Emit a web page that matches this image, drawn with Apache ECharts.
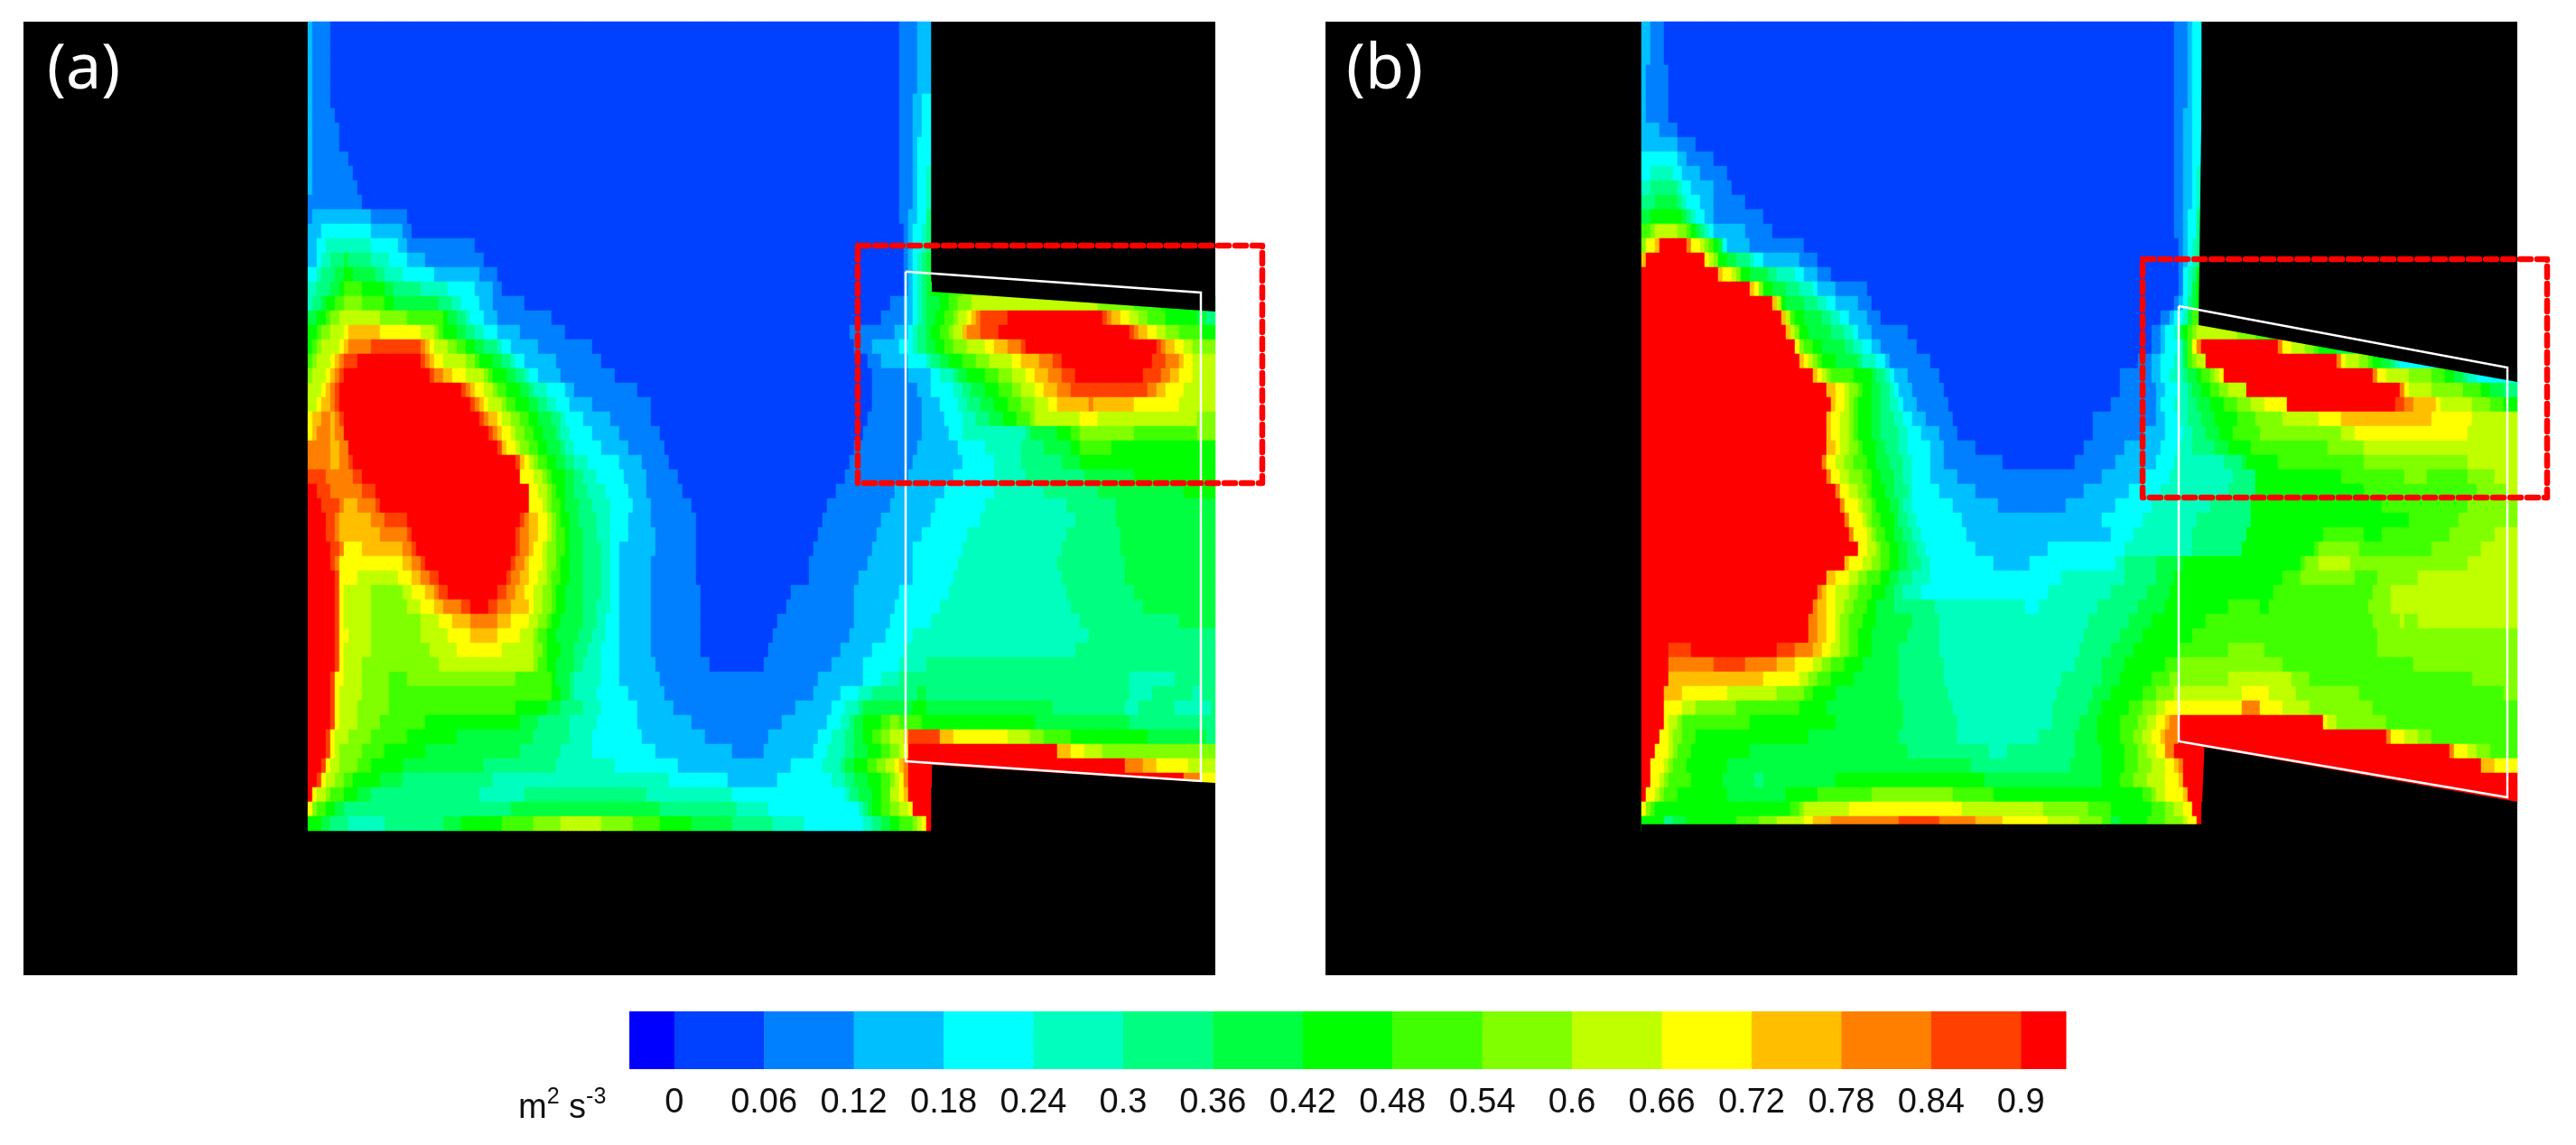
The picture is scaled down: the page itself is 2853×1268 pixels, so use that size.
<!DOCTYPE html>
<html>
<head>
<meta charset="utf-8">
<title>m2 s-3 contours</title>
<script src="https://cdn.jsdelivr.net/npm/echarts@6/dist/echarts.min.js"></script>
<style>
html,body{margin:0;padding:0;background:#fff;}
#main{width:2853px;height:1268px;}
</style>
</head>
<body>
<div id="main"></div>
<script>
// colour bar: tick values, band edges and band colours
var tickValues = [0,0.06,0.12,0.18,0.24,0.3,0.36,0.42,0.48,0.54,0.6,0.66,0.72,0.78,0.84,0.9];
var bandEdges = [-0.03,0,0.06,0.12,0.18,0.24,0.3,0.36,0.42,0.48,0.54,0.6,0.66,0.72,0.78,0.84,0.9,0.93];
var bandValues = [-0.015,0.03,0.09,0.15,0.21,0.27,0.33,0.39,0.45,0.51,0.57,0.63,0.69,0.75,0.81,0.87,0.915];
var bandColors = ['#0000ff','#0040ff','#0080ff','#00bfff','#00ffff','#00ffbf','#00ff80','#00ff40','#00ff00','#40ff00','#80ff00','#bfff00','#ffff00','#ffbf00','#ff8000','#ff4000','#ff0000'];

// field values, one string per grid row.
// first number = first column, then band:endColumn (band 0-9,a-g)
var panelARows = [
'63 3:64 2:68 1:194 2:198 3:201',
'63 3:64 2:68 1:194 2:198 3:201',
'63 3:64 2:68 1:194 2:198 3:201',
'63 3:64 2:68 1:194 2:198 3:201',
'63 3:64 2:68 1:194 2:198 3:201',
'63 3:64 2:68 1:194 2:197 3:199 4:201',
'63 3:64 2:69 1:194 2:197 3:199 4:201',
'63 3:64 2:70 1:194 2:197 3:199 4:201',
'63 3:64 2:70 1:194 2:197 3:198 4:201',
'63 3:64 2:72 1:194 2:197 3:198 4:201',
'63 3:64 2:73 1:194 2:197 3:198 4:200 5:201',
'63 3:64 2:74 1:194 2:197 3:198 4:200 5:201',
'63 2:75 1:194 2:197 3:198 4:200 5:201',
'63 2:64 3:77 2:85 1:194 2:196 3:198 4:200 6:201',
'63 3:66 4:77 3:84 2:86 1:195 2:196 3:197 4:199 5:200 6:201',
'63 3:65 4:67 5:77 4:83 3:85 2:100 1:195 2:196 3:197 4:199 5:200 6:201',
'63 3:65 4:66 5:68 6:71 7:72 6:77 5:81 4:85 3:89 2:102 1:195 2:196 3:197 4:198 5:199 6:200 7:201',
'63 4:65 5:66 6:69 7:71 8:73 7:78 6:80 5:84 4:91 3:101 2:105 1:195 2:196 3:197 4:198 5:199 6:200 7:201',
'63 5:65 6:68 7:70 8:71 9:75 8:80 7:82 6:88 5:94 4:100 3:104 2:106 1:195 2:196 3:197 4:198 5:199 6:200 7:201 8:205 9:208 a:212 b:216',
'63 5:64 6:66 7:67 8:69 9:71 a:75 9:80 8:82 7:92 6:95 5:97 4:101 3:104 2:111 1:192 2:195 3:197 4:198 5:199 6:200 7:203 8:205 9:207 a:210 b:238 a:246 9:252 8:258 7:264',
'63 7:65 8:67 9:68 a:70 b:79 a:85 9:93 8:94 7:96 6:98 5:99 4:102 3:105 2:117 1:190 2:195 3:197 4:198 5:199 6:200 7:202 8:204 9:206 a:207 b:209 c:210 d:211 e:212 f:218 g:239 f:240 e:241 d:243 c:245 b:247 a:249 9:253 8:260 7:262 6:264',
'63 8:65 9:66 a:68 b:71 c:72 d:79 c:88 b:91 a:92 9:93 8:96 7:98 6:100 5:102 4:105 3:110 2:120 1:183 2:193 3:196 4:197 5:198 6:200 7:201 8:203 9:205 a:206 b:208 d:209 e:212 f:216 g:245 f:246 e:247 d:249 c:251 b:253 a:256 9:261 8:264',
'63 8:64 9:65 a:66 b:70 c:71 d:72 e:77 f:88 e:89 d:90 c:91 b:94 a:96 9:98 8:100 7:102 6:105 5:106 4:108 3:114 2:126 1:184 2:188 3:194 4:197 5:198 6:200 7:202 8:204 9:206 a:209 b:213 c:215 d:218 e:221 f:222 g:251 f:252 e:253 d:255 c:257 b:259 a:264',
'63 9:64 a:65 b:68 c:69 d:70 e:71 f:74 g:88 f:89 e:90 d:91 c:93 b:98 a:100 9:101 8:104 7:106 6:108 5:109 4:111 3:118 2:128 1:187 2:190 3:196 4:200 5:201 6:203 7:205 8:208 9:211 a:214 b:219 c:221 d:225 e:228 f:230 g:250 f:253 e:256 d:257 c:259 b:264',
'63 a:64 b:67 c:68 d:69 e:70 f:71 g:90 f:91 e:93 d:95 c:98 b:102 a:103 9:104 8:107 7:109 6:111 5:112 4:114 3:119 2:131 1:188 2:196 3:201 4:203 5:206 6:207 7:209 8:213 9:216 a:219 b:222 c:224 d:227 e:230 f:233 g:248 f:252 e:254 d:256 c:259 b:264',
'63 b:66 c:67 d:68 e:69 f:70 g:97 f:98 e:99 d:100 c:102 b:104 a:105 9:107 8:110 7:112 6:113 5:116 4:120 3:122 2:136 1:188 2:198 3:201 4:206 5:208 6:210 7:213 8:216 9:219 a:221 b:224 c:226 d:229 e:232 f:249 e:251 d:253 c:257 b:264',
'63 b:65 c:66 d:68 e:69 f:70 g:99 f:100 e:101 d:102 c:103 b:106 a:107 9:109 8:112 7:114 6:116 5:118 4:121 3:126 2:139 1:188 2:199 3:203 4:207 5:209 6:212 7:215 8:218 9:221 a:224 b:227 c:229 d:236 e:237 d:246 c:256 b:264',
'63 c:64 d:66 e:68 d:69 e:70 f:71 g:101 f:102 e:103 d:105 c:106 b:108 a:110 9:112 8:114 7:117 6:119 5:120 4:124 3:130 2:139 1:187 2:199 3:204 4:208 5:211 6:214 7:217 8:220 9:223 a:224 b:234 c:238 b:260 a:264',
'63 c:64 d:65 e:68 d:69 e:71 g:103 f:104 e:105 d:106 c:108 b:109 a:111 9:113 8:115 7:118 6:119 5:121 4:126 3:132 2:141 1:186 2:199 3:205 4:208 5:222 6:223 7:229 8:232 9:234 a:246 9:260 a:264',
'63 e:68 d:70 e:72 g:105 f:106 d:107 c:109 b:110 a:112 9:114 8:116 7:119 6:120 5:122 4:128 3:134 2:142 1:184 2:198 3:207 4:213 5:221 6:226 7:232 8:234 9:241 8:264',
'63 e:68 d:70 e:72 f:73 g:109 f:110 d:111 c:112 b:113 a:114 9:116 8:118 7:120 6:122 5:125 4:132 3:137 2:143 1:183 2:197 3:208 4:215 5:221 6:230 7:234 8:264',
'63 f:67 e:73 f:75 g:110 c:113 b:115 a:116 9:117 8:120 7:122 6:124 5:127 4:133 3:138 2:145 1:182 2:196 3:206 4:215 5:222 6:235 7:246 8:264',
'63 g:65 f:68 e:75 f:78 g:112 c:114 b:116 a:117 9:118 8:120 7:122 6:125 5:129 4:134 3:138 2:146 1:180 2:193 3:204 4:215 5:226 6:238 7:257 8:264',
'63 g:66 f:70 e:71 d:74 e:78 f:79 g:112 c:115 b:116 a:117 9:119 8:120 7:123 6:126 5:130 4:135 3:139 2:148 1:178 2:192 3:202 4:213 5:231 6:242 7:264',
'63 g:67 f:69 e:70 d:77 e:80 f:85 g:110 f:111 e:112 d:114 c:116 b:117 a:118 9:119 8:121 7:123 6:127 5:130 4:134 3:139 2:149 1:177 2:190 3:201 4:212 5:233 6:242 7:264',
'63 g:67 f:69 e:70 d:79 e:85 f:86 g:109 f:110 e:112 d:114 c:116 b:117 a:118 9:120 8:121 7:124 6:127 5:130 4:134 3:140 2:149 1:176 2:189 3:199 4:209 5:231 6:243 7:264',
'63 g:68 f:70 e:71 c:75 d:84 e:86 f:87 g:109 f:110 e:112 d:113 c:115 b:116 a:118 9:120 8:121 7:124 6:128 5:130 4:132 3:140 2:149 1:175 2:188 3:197 4:208 5:230 6:243 7:264',
'63 g:68 f:69 e:70 c:84 d:86 e:88 f:89 g:108 f:109 e:111 d:112 c:115 b:116 a:118 9:119 8:121 7:124 6:128 5:130 4:132 3:139 2:149 1:174 2:187 3:197 4:207 5:229 6:244 7:264',
'63 g:69 f:70 c:74 b:83 c:86 d:88 e:90 f:92 g:107 f:108 e:110 d:112 c:114 b:116 a:117 9:119 8:121 7:124 6:128 5:130 4:132 3:139 2:149 1:174 2:185 3:197 4:206 5:230 6:244 7:264',
'63 g:69 f:70 c:71 b:77 a:84 b:86 c:89 d:91 e:92 f:94 g:105 f:107 e:109 d:111 c:113 b:115 a:117 9:118 8:120 7:124 6:128 5:130 4:132 3:139 2:150 1:170 2:184 3:194 4:205 5:231 6:246 7:264',
'63 g:69 f:70 c:71 b:77 a:85 b:88 c:91 d:93 e:97 f:99 g:103 f:105 e:108 d:112 c:113 b:115 a:117 9:118 8:120 7:124 6:127 5:130 4:132 3:139 2:150 1:169 2:184 3:193 4:203 5:232 6:248 7:264',
'63 g:69 f:70 c:71 b:77 a:88 b:92 c:95 d:99 e:105 d:108 c:112 b:114 a:116 9:117 8:119 7:124 6:127 5:129 4:132 3:139 2:150 1:167 2:184 3:192 4:201 5:234 6:256 7:264',
'63 g:69 f:70 c:72 b:77 a:88 b:94 c:99 d:105 c:110 b:113 a:114 9:116 8:118 7:123 6:126 5:129 4:132 3:139 2:150 1:166 2:183 3:191 4:197 5:236 6:264',
'63 g:69 f:70 c:71 b:77 a:90 b:96 c:106 b:113 a:115 9:116 8:119 7:122 6:125 5:128 4:132 3:139 2:150 1:165 2:181 3:188 4:195 5:233 6:264',
'63 g:69 f:70 c:71 b:75 a:92 b:113 a:114 9:116 8:118 7:122 6:124 5:128 4:132 3:140 2:152 1:164 2:179 3:186 4:194 5:200 6:264',
'63 g:68 f:69 c:71 b:75 a:81 9:85 a:109 9:117 8:118 7:121 6:122 5:128 4:132 3:141 2:176 3:186 4:190 5:194 6:245 5:255 6:264',
'63 g:68 f:69 c:70 b:75 a:81 9:117 8:119 7:121 6:122 5:127 4:134 3:142 2:175 3:181 4:185 5:188 6:198 7:200 6:245 5:250 6:259 5:261 6:264',
'63 g:68 f:69 c:70 b:74 a:81 9:109 8:116 7:119 6:124 5:128 4:136 3:144 2:171 3:179 4:182 5:185 6:186 7:197 8:200 7:228 6:244 5:247 6:255 5:263 6:264',
'63 g:68 f:69 c:70 b:74 a:79 9:89 8:110 7:114 6:121 5:127 4:136 3:148 2:168 3:178 4:181 5:183 6:184 7:186 8:190 9:192 a:194 9:199 8:224 7:245 6:264',
'63 g:67 f:68 c:69 b:72 a:77 9:85 8:96 7:113 6:121 5:126 4:137 3:151 2:165 3:176 4:179 5:182 6:184 7:186 8:188 9:190 a:192 b:195 d:196 f:203 d:206 c:218 b:223 a:226 9:232 8:249 7:262 6:264',
'63 g:67 f:68 c:69 b:70 a:75 9:80 8:89 7:110 6:119 5:126 4:140 3:157 2:164 3:175 4:178 5:182 6:184 7:187 8:190 9:192 a:194 b:195 c:196 g:229 d:232 c:235 b:239 a:264',
'63 g:66 f:67 c:68 b:70 a:74 9:77 8:84 7:102 6:118 5:131 4:145 3:170 4:177 5:181 6:182 7:184 8:187 9:189 a:191 b:193 c:194 d:195 e:196 g:244 e:248 d:251 c:258 b:264',
'63 g:65 f:66 c:67 b:69 a:71 9:73 8:79 7:84 6:104 5:143 4:156 3:167 4:179 5:182 6:184 7:187 8:190 9:192 a:193 b:194 c:195 e:196 g:257 e:261 c:264',
'63 g:64 c:65 b:67 a:68 9:71 8:74 7:77 6:101 5:111 6:138 5:157 4:182 5:183 6:185 7:188 8:190 9:192 b:194 c:195 d:196 g:201',
'63 c:64 a:65 9:67 8:69 7:71 6:108 7:141 6:158 5:165 4:185 5:186 6:187 7:188 8:190 9:192 a:194 b:196 c:197 g:201',
'63 8:66 7:68 6:72 5:80 6:93 7:97 8:106 9:113 a:119 b:128 a:135 9:141 8:148 7:157 6:166 5:173 4:186 5:188 6:190 7:192 8:194 9:197 a:198 b:199 c:200 g:201'
];

var panelBRows = [
'70 3:72 2:75 1:188 2:191 3:192 4:194',
'70 3:72 2:75 1:188 2:191 3:192 4:194',
'70 3:72 2:75 1:188 2:191 3:192 4:194',
'70 3:71 2:76 1:188 2:191 3:192 4:194',
'70 3:71 2:76 1:188 2:191 3:192 4:194',
'70 3:71 2:76 1:188 2:191 3:192 4:194',
'70 3:71 2:76 1:188 2:190 3:192 4:194',
'70 3:74 2:78 1:188 2:190 3:192 4:194',
'70 3:78 2:82 1:188 2:190 3:192 4:194',
'70 4:78 3:80 2:86 1:188 2:190 3:192 4:194',
'70 4:72 5:77 4:79 3:83 2:89 1:188 2:190 3:192 4:193 5:194',
'70 5:72 6:78 5:79 4:81 3:86 2:90 1:188 2:190 3:192 4:193 5:194',
'70 6:73 7:78 6:79 5:80 4:83 3:86 2:93 1:188 2:190 3:192 4:193 5:194',
'70 7:72 8:79 7:80 6:81 5:82 4:84 3:86 2:97 1:188 2:190 3:191 4:193 6:194',
'70 9:72 a:73 b:78 a:80 9:81 8:82 7:83 6:84 5:85 4:86 3:93 2:99 1:188 2:190 3:191 4:193 6:194',
'70 a:71 c:73 d:74 g:80 e:81 c:83 b:84 a:85 9:86 8:87 7:88 4:89 3:94 2:106 1:189 2:190 3:191 4:192 5:193 6:194',
'70 d:71 g:84 c:85 b:86 a:87 8:89 7:91 6:94 5:95 4:97 3:105 2:109 1:189 2:190 3:191 4:192 5:193 6:194',
'70 g:87 d:88 c:90 b:91 a:92 8:94 7:98 6:100 5:104 4:106 3:109 2:112 1:189 2:190 3:190 4:191 5:192 6:193 8:194',
'70 g:94 d:95 c:96 a:97 8:99 7:102 6:105 5:108 4:109 3:113 2:120 1:189 2:190 3:190 4:191 5:192 6:192 7:193 8:194',
'70 g:99 d:100 b:101 8:102 7:106 6:109 5:111 4:113 3:118 2:121 1:188 2:189 3:190 4:191 5:191 6:192 7:193 8:194',
'70 g:101 d:102 b:103 9:104 8:106 7:110 6:112 5:114 4:116 3:120 2:123 1:185 2:187 3:188 4:190 5:191 7:192 9:194',
'70 g:102 d:103 c:103 b:104 a:105 8:107 7:112 6:115 5:117 4:118 3:121 2:129 1:183 2:185 3:186 4:188 5:189 7:190 8:191 9:192 a:193 b:202 a:206 9:209 8:212',
'70 g:104 c:105 b:105 a:106 9:108 8:110 7:115 6:117 5:119 4:121 3:123 2:131 1:183 2:185 3:186 4:189 5:190 7:191 9:192 c:193 e:194 g:211 e:212 c:214 b:217 a:219 9:220 8:224 7:230',
'70 g:105 d:106 c:107 b:108 a:109 9:110 8:113 7:118 6:119 5:122 4:124 3:125 2:134 1:180 2:183 3:185 4:188 5:190 7:191 8:191 9:192 a:193 b:195 g:224 e:225 c:226 b:229 a:231 9:232 8:234 7:236 6:237 5:238 4:248',
'70 g:108 d:109 c:110 b:111 a:112 9:117 8:121 7:122 6:124 5:125 4:126 3:129 2:136 1:176 2:183 3:185 4:187 5:190 6:191 7:193 8:194 9:196 a:197 b:198 c:199 g:232 e:233 c:235 b:240 a:245 9:248 8:250 7:252 6:253 5:255 4:264',
'70 g:111 d:113 c:115 b:116 a:118 9:119 8:121 7:123 6:125 5:126 4:127 3:130 2:137 1:176 2:184 3:186 4:189 5:191 6:192 7:194 8:196 9:198 a:200 b:204 g:238 e:239 c:240 b:245 a:252 9:256 8:258 7:261 6:264',
'70 g:112 d:113 c:115 b:116 a:117 9:118 8:121 7:123 6:125 5:127 4:128 3:131 2:138 1:174 2:184 3:185 4:188 5:191 6:193 7:196 8:199 9:202 a:205 b:208 c:213 g:237 f:239 e:241 d:246 c:247 b:254 a:258 9:261 8:264',
'70 g:111 d:112 c:114 b:116 a:117 9:118 8:121 7:123 6:126 5:128 4:130 3:133 2:139 1:170 2:184 3:186 4:189 5:191 6:194 7:197 8:202 9:206 a:212 b:220 c:225 d:245 c:254 b:264',
'70 g:111 d:112 c:114 b:116 a:117 9:118 8:121 7:123 6:127 5:129 4:132 3:136 2:140 1:170 2:181 3:186 4:190 5:192 6:195 7:198 8:201 9:207 a:225 b:228 c:253 b:264',
'70 g:111 d:113 c:114 b:116 a:118 9:119 8:122 7:124 6:127 5:129 4:134 3:137 2:144 1:168 2:177 3:185 4:189 5:192 6:197 7:200 8:205 9:222 a:230 b:264',
'70 g:110 e:111 c:113 b:115 a:117 9:120 8:122 7:125 6:128 5:130 4:134 3:137 2:150 1:166 2:175 3:184 4:188 5:199 6:203 7:204 8:211 9:230 a:253 b:264',
'70 g:111 e:112 c:114 b:116 a:119 9:121 8:123 7:126 6:128 5:130 4:134 3:140 2:172 3:181 4:187 5:201 6:206 8:225 9:239 a:244 9:253 a:259 b:264',
'70 g:113 e:114 c:116 b:118 a:120 9:121 8:124 7:126 6:129 5:130 4:136 3:144 2:168 3:178 4:185 5:200 6:206 8:230 9:255 a:262 b:264',
'70 g:114 e:115 c:118 b:119 a:121 9:122 8:125 7:127 6:128 5:130 4:139 3:149 2:164 3:175 4:183 5:196 6:205 8:234 9:253 a:264',
'70 g:115 e:116 c:119 b:120 a:121 9:123 8:126 7:127 6:129 5:131 4:141 3:172 4:181 5:193 6:205 8:240 9:251 a:264',
'70 g:116 e:117 c:120 b:121 a:122 9:124 8:126 7:128 6:130 5:132 4:142 3:174 4:179 5:192 6:204 8:221 9:230 8:234 9:249 a:259 b:264',
'70 g:118 c:120 b:122 a:123 9:125 8:127 7:129 6:131 5:133 4:144 3:160 4:177 5:192 6:203 8:219 9:220 a:229 9:245 a:256 b:264',
'70 g:115 d:116 c:119 b:121 a:123 9:125 8:127 7:129 6:132 5:134 4:148 3:156 4:175 5:177 6:184 7:190 8:216 9:217 a:220 b:227 a:253 b:264',
'70 g:111 d:113 c:116 b:118 a:120 9:123 8:125 7:127 6:130 5:134 4:163 5:177 6:184 7:188 8:212 9:216 a:228 9:233 a:242 b:264',
'70 g:109 e:110 d:111 c:113 b:116 a:118 9:121 8:124 7:126 6:128 5:132 4:160 5:174 6:182 7:187 8:210 9:232 a:236 b:264',
'70 g:108 e:109 d:111 c:113 b:115 a:117 9:120 8:122 7:126 6:135 5:155 4:158 5:171 6:180 7:186 8:200 9:207 8:209 9:231 a:236 b:264',
'70 g:107 e:109 d:111 c:113 b:114 a:116 9:119 8:122 7:130 6:136 5:169 6:178 7:183 8:195 9:232 a:238 b:239 a:242 b:264',
'70 g:107 e:109 d:111 c:113 b:114 a:116 9:118 8:121 7:129 6:136 5:168 6:176 7:181 8:192 9:233 a:264',
'70 g:76 f:81 g:100 f:104 e:108 d:110 c:112 b:114 a:116 9:118 8:121 7:127 6:136 5:167 6:174 7:179 8:189 9:200 a:208 9:233 a:264',
'70 g:76 e:86 f:93 e:100 d:104 c:108 b:110 a:112 9:115 8:119 7:127 6:137 5:166 6:172 7:177 8:186 9:189 a:212 9:241 a:264',
'70 g:76 d:97 c:105 b:107 a:109 9:112 8:117 7:127 6:137 5:163 6:172 7:176 8:183 9:187 a:200 b:214 a:218 9:254 a:264',
'70 g:75 d:79 c:89 b:100 a:106 9:108 8:113 7:127 6:138 5:162 6:170 7:174 8:181 9:184 a:188 b:203 c:209 b:215 a:229 9:261 a:264',
'70 g:75 c:79 b:82 a:91 9:105 8:111 7:128 6:139 5:161 6:169 7:172 8:178 9:181 a:184 b:186 c:203 e:207 c:212 b:218 a:232 9:264',
'70 g:75 c:76 b:78 a:79 9:94 8:113 7:128 6:140 5:161 6:167 7:171 8:176 9:180 a:182 b:184 c:186 d:187 e:189 g:221 c:222 b:224 a:235 9:264',
'70 g:74 c:76 b:77 a:79 9:82 8:107 7:127 6:140 5:158 6:166 7:171 8:176 9:179 a:181 b:183 c:185 d:186 e:189 g:235 e:236 c:239 b:242 a:245 9:264',
'70 g:73 c:76 b:77 a:78 9:81 8:94 7:129 6:147 5:151 6:166 7:172 8:177 9:180 a:182 b:184 c:186 e:188 g:249 e:250 c:253 b:255 a:258 9:264',
'70 g:72 c:75 b:76 a:77 9:80 8:89 7:143 6:165 7:172 8:177 9:180 a:183 b:186 c:188 d:189 e:190 g:256 d:259 c:264',
'70 g:72 c:74 b:75 a:76 9:81 8:88 7:95 6:97 7:113 8:146 7:172 8:176 9:179 a:182 b:186 c:189 d:190 g:264',
'70 g:71 c:73 b:74 a:75 9:78 8:89 7:102 8:109 9:121 a:139 9:148 8:181 9:183 a:184 b:186 c:190 d:191 g:264',
'70 c:71 a:72 9:73 8:103 9:105 a:106 b:116 c:141 b:159 a:169 9:174 8:183 9:186 a:188 b:190 c:192 g:194',
'70 8:75 6:77 7:80 8:91 9:96 a:100 b:106 c:108 d:112 e:127 f:136 e:144 d:150 c:160 b:167 a:172 9:174 7:176 8:182 9:186 a:190 b:191 c:193 g:194'
];

// outlines in grid column / row units
var whiteBoxA = [[195.4,17.3],[260.8,18.75],[260.8,52.56],[195.4,51.19],[195.4,17.3]];
var whiteBoxB = [[189,19.69],[261.8,23.94],[261.8,53.69],[189,49.81],[189,19.69]];
var redBoxA = [[184.8,15.5],[274.4,15.5],[274.4,31.94],[184.8,31.94],[184.8,15.5]];
var redBoxB = [[181,16.44],[270.6,16.44],[270.6,32.94],[181,32.94],[181,16.44]];
// solid walls around the duct
var wallsA = [
    [[201.2,0],[264,0],[264,20.06],[201.2,18.69]],
    [[201.2,51.44],[264,52.69],[264,66],[201.2,66]]
];
var wallsB = [
    [[194.3,0],[264,0],[264,24.94],[193.4,21]],
    [[194.7,50.2],[264,54],[264,66],[70,66],[70,55.55],[194,55.55]]
];

var columnCount = 264;
var rowCount = 66;
var overlayColumns = 276;

function expandRows(rows) {
    var cells = [];
    rows.forEach(function (row, r) {
        var parts = row.split(' ');
        var col = +parts[0];
        for (var i = 1; i < parts.length; i++) {
            var p = parts[i].split(':');
            var end = +p[1];
            var v = bandValues[parseInt(p[0], 17)];
            for (var c = col; c < end; c++) {
                cells.push([c, r, v]);
            }
            col = end;
        }
    });
    return cells;
}

function indexList(n) {
    var list = [];
    for (var i = 0; i < n; i++) list.push(i);
    return list;
}

var pieces = [];
for (var i = 0; i < bandColors.length; i++) {
    pieces.push({min: bandEdges[i] - (i === 0 ? 0.1 : 0), max: bandEdges[i + 1], color: bandColors[i]});
}

function fieldSeries(rows, gridIdx) {
    return {
        type: 'heatmap',
        xAxisIndex: gridIdx,
        yAxisIndex: gridIdx,
        data: expandRows(rows),
        progressive: 0,
        silent: true,
        emphasis: {disabled: true}
    };
}

function outlineSeries(points, axisIdx, style) {
    return {
        type: 'line',
        xAxisIndex: axisIdx,
        yAxisIndex: axisIdx,
        data: points,
        symbol: 'none',
        clip: false,
        silent: true,
        z: 5,
        lineStyle: style
    };
}

function wallSeries(walls, axisIdx) {
    return {
        type: 'custom',
        xAxisIndex: axisIdx,
        yAxisIndex: axisIdx,
        silent: true,
        clip: false,
        z: 3,
        data: indexList(walls.length),
        renderItem: function (params, api) {
            return {
                type: 'polygon',
                shape: {points: walls[params.dataIndex].map(function (p) { return api.coord(p); })},
                style: {fill: '#000'}
            };
        }
    };
}

var whiteLine = {color: '#fff', width: 2.5, join: 'miter'};
var redLine = {color: '#ff0000', width: 6.5, type: [12, 7], cap: 'round', join: 'round'};

var panelAx = {left: 26, top: 24, width: 1320, height: 1056};
var panelBx = {left: 1468, top: 24, width: 1320, height: 1056};

var bandData = [];
for (var k = 0; k < bandColors.length; k++) {
    bandData.push([bandEdges[k], bandEdges[k + 1]]);
}

var myChart = echarts.init(document.getElementById('main'));
myChart.setOption({
    animation: false,
    backgroundColor: '#fff',
    title: [
        {text: '(a)', left: 47, top: 38, textStyle: {color: '#fff', fontSize: 70, fontWeight: 'normal', fontFamily: 'Noto Sans'}},
        {text: '(b)', left: 1486, top: 38, textStyle: {color: '#fff', fontSize: 70, fontWeight: 'normal', fontFamily: 'Noto Sans'}},
        {
            text: '{u|m}{s|2}{u| s}{s|-3}',
            left: 569,
            top: 1198,
            textStyle: {
                fontWeight: 'normal',
                rich: {
                    u: {fontSize: 38, fontWeight: 'normal', fontFamily: 'Liberation Sans', color: '#111', verticalAlign: 'bottom', lineHeight: 44},
                    s: {fontSize: 25, fontWeight: 'normal', fontFamily: 'Liberation Sans', color: '#111', verticalAlign: 'top', lineHeight: 44}
                }
            }
        }
    ],
    grid: [
        {left: panelAx.left, top: panelAx.top, width: panelAx.width, height: panelAx.height, show: true, backgroundColor: '#000', borderWidth: 0},
        {left: panelBx.left, top: panelBx.top, width: panelBx.width, height: panelBx.height, show: true, backgroundColor: '#000', borderWidth: 0},
        {left: panelAx.left, top: panelAx.top, width: 1380, height: panelAx.height},
        {left: panelBx.left, top: panelBx.top, width: 1380, height: panelBx.height},
        {left: 697, top: 1120, width: 1591, height: 64}
    ],
    xAxis: [
        {type: 'category', gridIndex: 0, data: indexList(columnCount), show: false},
        {type: 'category', gridIndex: 1, data: indexList(columnCount), show: false},
        {type: 'value', gridIndex: 2, min: 0, max: overlayColumns, show: false},
        {type: 'value', gridIndex: 3, min: 0, max: overlayColumns, show: false},
        {
            type: 'value',
            gridIndex: 4,
            min: -0.03,
            max: 0.93,
            axisLine: {show: false},
            axisTick: {show: false},
            splitLine: {show: false},
            axisLabel: {
                customValues: tickValues,
                margin: 19,
                color: '#111',
                fontSize: 38,
                fontFamily: 'Liberation Sans',
                formatter: function (v) { return String(+(+v).toFixed(2)); }
            }
        }
    ],
    yAxis: [
        {type: 'category', gridIndex: 0, data: indexList(rowCount), inverse: true, show: false},
        {type: 'category', gridIndex: 1, data: indexList(rowCount), inverse: true, show: false},
        {type: 'value', gridIndex: 2, min: 0, max: rowCount, inverse: true, show: false},
        {type: 'value', gridIndex: 3, min: 0, max: rowCount, inverse: true, show: false},
        {type: 'value', gridIndex: 4, min: 0, max: 1, show: false}
    ],
    visualMap: {
        show: false,
        type: 'piecewise',
        dimension: 2,
        seriesIndex: [0, 1],
        pieces: pieces
    },
    series: [
        fieldSeries(panelARows, 0),
        fieldSeries(panelBRows, 1),
        wallSeries(wallsA, 2),
        wallSeries(wallsB, 3),
        outlineSeries(whiteBoxA, 2, whiteLine),
        outlineSeries(whiteBoxB, 3, whiteLine),
        outlineSeries(redBoxA, 2, redLine),
        outlineSeries(redBoxB, 3, redLine),
        {
            type: 'custom',
            xAxisIndex: 4,
            yAxisIndex: 4,
            silent: true,
            clip: false,
            data: bandData,
            encode: {x: [0, 1]},
            renderItem: function (params, api) {
                var a = api.coord([api.value(0), 1]);
                var b = api.coord([api.value(1), 0]);
                return {
                    type: 'rect',
                    shape: {x: a[0], y: a[1], width: b[0] - a[0] + 0.5, height: b[1] - a[1]},
                    style: {fill: bandColors[params.dataIndex]}
                };
            }
        }
    ]
});
</script>
</body>
</html>
